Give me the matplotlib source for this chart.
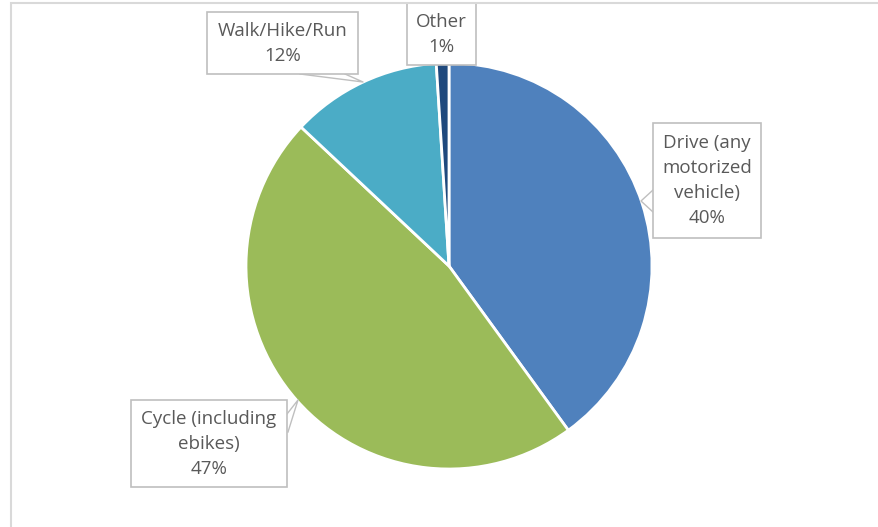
import matplotlib.pyplot as plt
from matplotlib.patches import Rectangle

plt.rcParams['font.family'] = ['Open Sans', 'DejaVu Sans']

# Data
labels = ['Drive (any\nmotorized\nvehicle)', 'Cycle (including\nebikes)', 'Walk/Hike/Run', 'Other']
shares = [40, 47, 12, 1]
colors = ['#4F81BD', '#9BBB59', '#4BACC6', '#1F497D']

# label boxes in pixel coords (left, top, width, height), y from top
label_boxes = [(653, 123, 108, 115), (131, 400, 156, 87), (207, 12, 151, 62), (407, 3, 69, 62)]

W, H = 879, 527
fig = plt.figure(figsize=(W / 100, H / 100), dpi=100)
ax = fig.add_axes([0, 0, 1, 1])

ax.pie(shares, colors=colors, startangle=90, counterclock=False,
       center=(449, H - 266), radius=203, frame=True,
       wedgeprops=dict(edgecolor='white', linewidth=2))
ax.set_xlim(0, W)
ax.set_ylim(0, H)
ax.axis('off')

# outer chart frame
fig.patches.append(Rectangle((11 / W, -0.01), 1.0, 1 - 3 / H + 0.01,
                             transform=fig.transFigure, fill=False,
                             edgecolor='#d9d9d9', linewidth=1.5))

# callout leaders
leader_col = '#bfbfbf'
callouts = [
    [(653, 190), (641, 201), (653, 212)],
    [(287, 414), (298, 400), (288, 432)],
    [(300, 74), (363, 82), (345, 74)],
]
for pts in callouts:
    xs = [p[0] for p in pts]
    ys = [H - p[1] for p in pts]
    ax.plot(xs, ys, color=leader_col, linewidth=1, zorder=4)

for lab, val, (x0, y0, bw, bh) in zip(labels, shares, label_boxes):
    ax.add_patch(Rectangle((x0, H - y0 - bh), bw, bh, facecolor='white',
                           edgecolor=leader_col, linewidth=1.2, zorder=5))
    ax.text(x0 + bw / 2, H - y0 - bh / 2, f'{lab}\n{val}%', ha='center', va='center',
            fontsize=13.5, color='#595959', linespacing=1.5, zorder=6)

fig.savefig('out.png', dpi=100)
